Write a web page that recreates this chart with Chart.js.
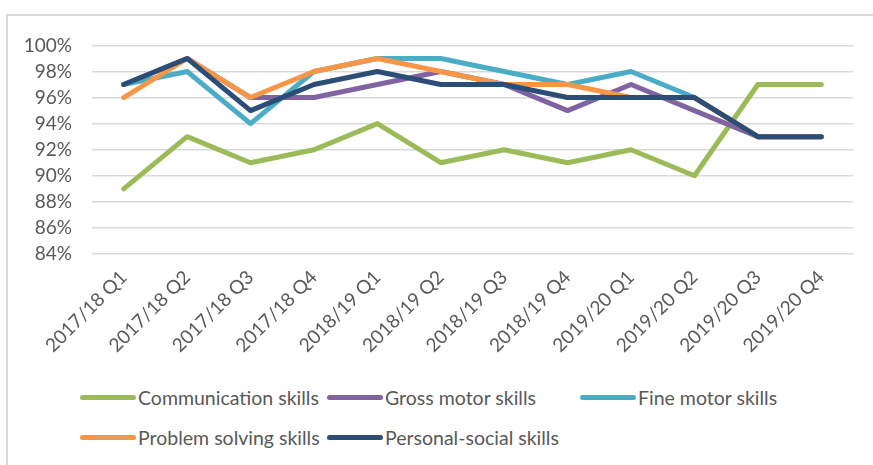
<!DOCTYPE html>
<html>
<head>
<meta charset="utf-8">
<script src="https://cdn.jsdelivr.net/npm/chart.js@4/dist/chart.umd.min.js"></script>
<style>
  body { margin: 0; background: #fff; overflow: hidden; font-family: Lato, "Open Sans", sans-serif; }
  #frame {
    position: absolute; left: 6px; top: 14px; width: 880px; height: 460px;
    border-top: 2px solid #d9d9d9; border-left: 2px solid #d9d9d9; box-sizing: border-box;
  }
  #wrap { position: absolute; left: -2px; top: -2px; width: 867px; height: 356px; }
  #legend {
    position: absolute; left: 72px; top: 361px;
    display: grid; grid-template-columns: 247px 253px auto; grid-auto-rows: 40px;
    color: #595959; font-size: 19.5px;
  }
  .item { display: flex; align-items: center; white-space: nowrap; }
  .swatch { width: 56px; height: 5px; border-radius: 3px; margin-right: 2px; }
</style>
</head>
<body>
<div id="frame">
  <div id="wrap"><canvas id="skillsChart"></canvas></div>
  <div id="legend"></div>
</div>
<script>
const quarters = ['2017/18 Q1', '2017/18 Q2', '2017/18 Q3', '2017/18 Q4',
                  '2018/19 Q1', '2018/19 Q2', '2018/19 Q3', '2018/19 Q4',
                  '2019/20 Q1', '2019/20 Q2', '2019/20 Q3', '2019/20 Q4'];

const communication = [89, 93, 91, 92, 94, 91, 92, 91, 92, 90, 97, 97];
const grossMotor    = [97, 99, 96, 96, 97, 98, 97, 95, 97, 95, 93, 93];
const fineMotor     = [97, 98, 94, 98, 99, 99, 98, 97, 98, 96, 93, 93];
const problemSolving = [96, 99, 96, 98, 99, 98, 97, 97, 96, 96, 93, 93];
const personalSocial = [97, 99, 95, 97, 98, 97, 97, 96, 96, 96, 93, 93];

const yTicks = [84, 86, 88, 90, 92, 94, 96, 98, 100];

const series = [
    { label: 'Communication skills', data: communication, color: '#9bbb59' },
    { label: 'Gross motor skills', data: grossMotor, color: '#8064a2' },
    { label: 'Fine motor skills', data: fineMotor, color: '#4bacc6' },
    { label: 'Problem solving skills', data: problemSolving, color: '#f79646' },
    { label: 'Personal-social skills', data: personalSocial, color: '#2c4d75' }
];

const tickFont = { family: 'Lato', size: 19 };

const chart = new Chart(document.getElementById('skillsChart'), {
    type: 'line',
    data: {
        labels: quarters,
        datasets: series.map((s, i) => ({
            label: s.label,
            data: s.data,
            borderColor: s.color,
            backgroundColor: s.color,
            borderWidth: 5,
            borderCapStyle: 'round',
            borderJoinStyle: 'round',
            pointRadius: 0,
            tension: 0,
            fill: false,
            order: series.length - i // later series drawn on top
        }))
    },
    options: {
        responsive: true,
        maintainAspectRatio: false,
        animation: false,
        layout: { padding: { top: 27, right: 20, left: 0, bottom: 0 } },
        plugins: { legend: { display: false }, tooltip: { enabled: false } },
        scales: {
            x: {
                offset: true,
                grid: { display: false },
                border: { display: false },
                ticks: { color: '#595959', font: tickFont, minRotation: 45, maxRotation: 45, padding: 4 },
                afterFit(scale) { scale.height = 116; }
            },
            y: {
                min: yTicks[0],
                max: yTicks[yTicks.length - 1],
                afterBuildTicks(scale) { scale.ticks = yTicks.map(v => ({ value: v })); },
                grid: { color: '#d9d9d9', lineWidth: 1.5, drawTicks: false },
                border: { display: false },
                ticks: { color: '#595959', font: tickFont, padding: 20, callback: v => v + '%' },
                afterFit(scale) { scale.width = 86; }
            }
        }
    }
});

// legend laid out in fixed columns, two rows
const legendEl = document.getElementById('legend');
chart.data.datasets.forEach(ds => {
    const item = document.createElement('div');
    item.className = 'item';
    const sw = document.createElement('span');
    sw.className = 'swatch';
    sw.style.background = ds.borderColor;
    const txt = document.createElement('span');
    txt.textContent = ds.label;
    item.appendChild(sw);
    item.appendChild(txt);
    legendEl.appendChild(item);
});
</script>
</body>
</html>
